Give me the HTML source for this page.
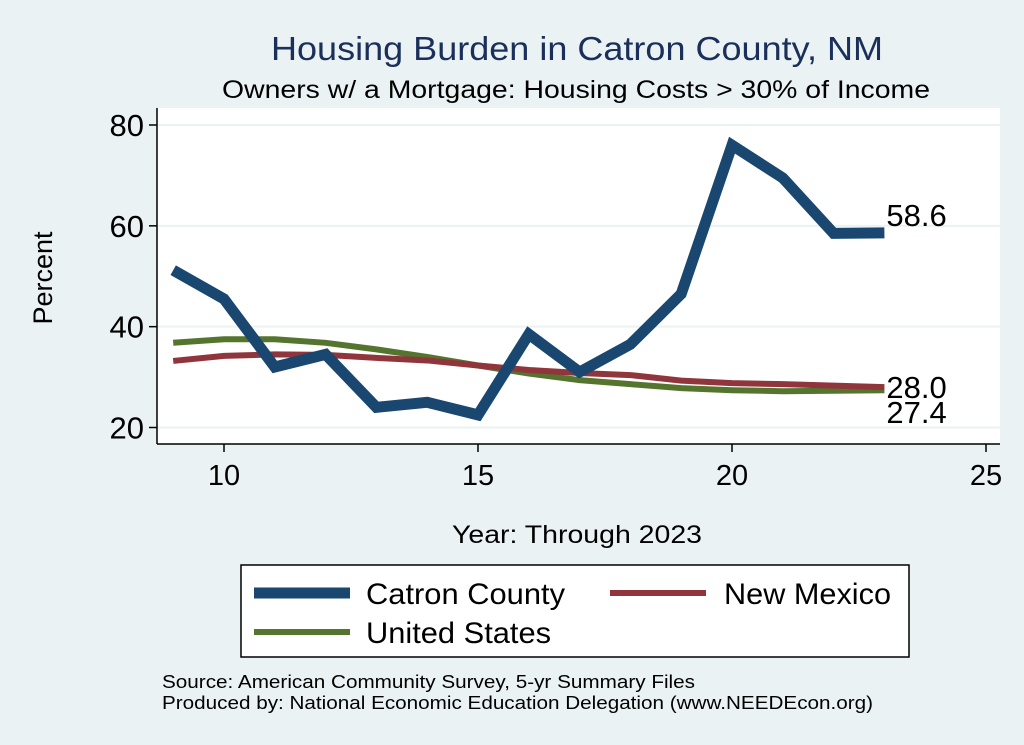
<!DOCTYPE html>
<html><head><meta charset="utf-8"><style>
body{margin:0;background:#eaf2f3;}
svg{display:block;font-family:"Liberation Sans",Arial,sans-serif;}
</style></head><body>
<svg id="c" width="1024" height="745">
<rect x="0" y="0" width="1024" height="745" fill="#eaf2f3"/>
<text x="271" y="60" font-size="33" fill="#1a2f5a" textLength="612" lengthAdjust="spacingAndGlyphs">Housing Burden in Catron County, NM</text>
<text x="222" y="98" font-size="25" fill="#000" textLength="708" lengthAdjust="spacingAndGlyphs">Owners w/ a Mortgage: Housing Costs &gt; 30% of Income</text>
<rect x="157" y="108" width="843" height="336" fill="#fff"/>
<g id="grid"></g>
<g id="series"></g>
<line x1="157" y1="108" x2="157" y2="444" stroke="#000" stroke-width="1.5"/>
<line x1="157" y1="444" x2="1000" y2="444" stroke="#000" stroke-width="1.5"/>
<g id="ticks"></g>
<text x="52" y="278" font-size="27" text-anchor="middle" transform="rotate(-90 52 278)">Percent</text>
<text x="452" y="543" font-size="25" textLength="250" lengthAdjust="spacingAndGlyphs">Year: Through 2023</text>
<g>
<rect x="241" y="565" width="668" height="92" fill="#fff" stroke="#000" stroke-width="1.5"/>
<g><line x1="254" y1="593" x2="350" y2="593" stroke="#1a476f" stroke-width="11"/><text x="366" y="604" font-size="30" textLength="199" lengthAdjust="spacingAndGlyphs">Catron County</text></g>
<g><line x1="610" y1="593" x2="706" y2="593" stroke="#90353b" stroke-width="6"/><text x="724" y="604" font-size="30" textLength="167" lengthAdjust="spacingAndGlyphs">New Mexico</text></g>
<g><line x1="254" y1="632" x2="350" y2="632" stroke="#55752f" stroke-width="6"/><text x="366" y="643" font-size="30" textLength="185" lengthAdjust="spacingAndGlyphs">United States</text></g>
</g>
<text x="162" y="688" font-size="18" textLength="533" lengthAdjust="spacingAndGlyphs">Source: American Community Survey, 5-yr Summary Files</text>
<text x="162" y="709" font-size="18" textLength="711" lengthAdjust="spacingAndGlyphs">Produced by: National Economic Education Delegation (www.NEEDEcon.org)</text>
</svg>
<script>
const years=[9,10,11,12,13,14,15,16,17,18,19,20,21,22,23];
const catron=[51.2,45.5,32,34.5,24,25,22.5,38.5,31,36.5,46.5,76,69.5,58.5,58.6];
const newMexico=[33.2,34.2,34.5,34.4,33.8,33.3,32.3,31.4,30.8,30.4,29.3,28.8,28.6,28.3,28.0];
const unitedStates=[36.8,37.5,37.5,36.8,35.5,34,32.3,30.7,29.4,28.6,27.8,27.4,27.2,27.3,27.4];
const yTicks=[20,40,60,80];
const xTicks=[10,15,20,25];
const NS='http://www.w3.org/2000/svg';
const sx=v=>224+(v-10)*50.8;
const sy=v=>427.5-(v-20)*(302.5/60);
function mk(t,a,p){const e=document.createElementNS(NS,t);for(const k in a)e.setAttribute(k,a[k]);p.appendChild(e);return e;}
const grid=document.getElementById('grid'),ticks=document.getElementById('ticks'),ser=document.getElementById('series');
yTicks.forEach(v=>{
 const g=mk('line',{x1:158,x2:1000,y1:sy(v),y2:sy(v),stroke:'#eaf2f3','stroke-width':2},grid);
 
 
 mk('line',{x1:149,x2:157,y1:sy(v),y2:sy(v),stroke:'#000','stroke-width':1.5},ticks);
 const t=mk('text',{x:144,y:sy(v)+11,'font-size':31,'text-anchor':'end'},ticks);t.textContent=v;
 
 
});
xTicks.forEach(v=>{
 mk('line',{x1:sx(v),x2:sx(v),y1:444,y2:452,stroke:'#000','stroke-width':1.5},ticks);
 const t=mk('text',{x:sx(v),y:485,'font-size':29,'text-anchor':'middle'},ticks);t.textContent=v;
 
 
});
function line(d,col,w,name){
 const p=mk('polyline',{points:d.map((v,i)=>sx(years[i])+','+sy(v)).join(' '),fill:'none',stroke:col,'stroke-width':w,'stroke-linejoin':'miter'},ser);
 
 
}
line(unitedStates,'#55752f',6,'line-united-states');
line(newMexico,'#90353b',6,'line-new-mexico');
line(catron,'#1a476f',11,'line-catron-county');
function lab(v,dy,name){
 const t=mk('text',{x:sx(23)+2,y:sy(v)+dy,'font-size':31},ser);t.textContent=v.toFixed(1);
 
 
}
lab(catron[14],-7,'label-catron-last');
lab(newMexico[14],11,'label-new-mexico-last');
lab(unitedStates[14],33,'label-united-states-last');
</script>
</body></html>
